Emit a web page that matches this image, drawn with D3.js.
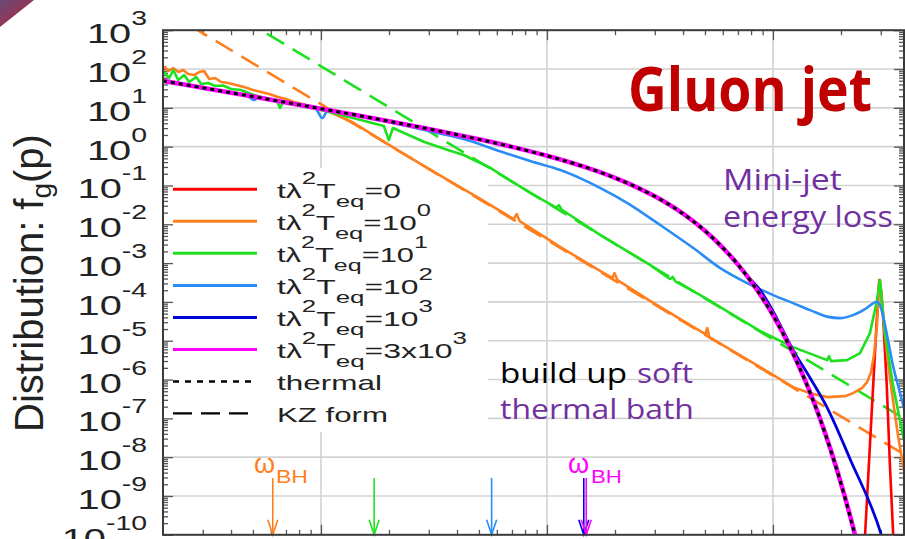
<!DOCTYPE html>
<html>
<head>
<meta charset="utf-8">
<script src="https://cdn.jsdelivr.net/npm/d3@7/dist/d3.min.js"></script>
<style>
  body { margin: 0; background: #fff; }
  svg { display: block; }
  text { font-family: "Liberation Sans", Arial, sans-serif; }
  .note { font-family: "Open Sans", "Noto Sans", sans-serif; }
</style>
</head>
<body>
<svg id="chart" width="905" height="539"></svg>
<script>
// ---------- axes ----------
const xDomain = [0.02, 38];
const yDomain = [1e-10, 1e3];
const yTickExponents = [-10, -9, -8, -7, -6, -5, -4, -3, -2, -1, 0, 1, 2, 3];
const xGridValues = [0.1, 1, 10];

// ---------- series: [p, f_g(p)] ----------
const thermal = [[0.02,49.5],[0.03,32.8],[0.05,19.5],[0.07,13.8],[0.1,9.51],[0.15,6.18],[0.2,4.52],
  [0.3,2.86],[0.5,1.54],[0.7,0.987],[1,0.582],[1.5,0.287],[2,0.157],[2.5,0.0894],[3,0.0524],
  [4,0.0187],[5,0.00678],[6,0.00248],[7,9.13e-4],[8,3.35e-4],[9,1.23e-4],[10,4.54e-5],
  [12,6.14e-6],[14,8.3e-7],[16,1.13e-7],[18,1.52e-8],[20,2.06e-9],[22,2.8e-10],[24,3.8e-11]];

const t3000 = [[0.02,49.5],[0.03,32.8],[0.05,19.5],[0.07,13.8],[0.1,9.51],[0.15,6.18],[0.2,4.52],
  [0.3,2.86],[0.5,1.54],[0.7,0.987],[1,0.582],[1.5,0.287],[2,0.157],[2.5,0.0894],[3,0.0524],
  [4,0.0187],[5,0.00678],[6,0.00248],[7,9.13e-4],[8,3.36e-4],[9,1.24e-4],[10,4.6e-5],
  [12,6.2e-6],[14,8.4e-7],[16,1.15e-7],[18,1.55e-8],[20,2.1e-9],[22,2.9e-10],[24,4e-11]];

const t1000 = [[0.02,49.5],[0.03,32.8],[0.05,19.5],[0.07,13.8],[0.1,9.51],[0.15,6.18],[0.2,4.52],
  [0.3,2.86],[0.5,1.54],[0.7,0.987],[1,0.582],[1.5,0.287],[2,0.157],[2.5,0.0894],[3,0.0524],
  [4,0.0187],[5,0.0069],[6,0.0025],[7,9.4e-4],[8,3.7e-4],[8.78,2.0e-4],[10,5.8e-5],
  [12.28,5.7e-6],[14.6,1.1e-6],[17.3,1.98e-7],[21.93,9e-9],[30.27,9.3e-11],[32,3e-11]];

const t100 = [[0.02025,48.9],[0.03,32.8],[0.04,24.5],[0.047,20.8],[0.0506,15.9],[0.053,18.4],
  [0.07,13.8],[0.0941,10.1],[0.1015,5.46],[0.1074,8.77],[0.13,7.15],[0.184,4.7],[0.307,2.45],
  [0.45,1.45],[0.624,0.748],[0.85,0.42],[1.147,0.249],[1.407,0.152],[1.725,0.0857],[2.27,0.0352],
  [3.176,9.5e-3],[4.442,2.44e-3],[5.846,7.43e-4],[7.386,3.44e-4],[10.02,1.5e-4],[12.28,9.3e-5],
  [14.6,6.15e-5],[17.35,4.18e-5],[19.81,3.82e-5],[22.61,4.57e-5],[25.54,6.52e-5],[27.43,8.77e-5],
  [28.77,1.01e-4],[29.75,8.28e-5],[30.77,4.13e-5],[32.28,1.04e-5],[34.06,2.12e-6],[35.73,7.18e-7],
  [37.97,1.83e-7]];

const t10 = [[0.02025,83.7],[0.02131,58.6],[0.0222,94.2],[0.02335,52.1],[0.02482,70.0],[0.02612,46.2],
  [0.02805,62.2],[0.02951,41.1],[0.03169,43.5],[0.03402,36.5],[0.03691,37.5],[0.04004,30.5],
  [0.04432,28.8],[0.04907,22.7],[0.05433,19.0],[0.06015,15.9],[0.06392,15.0],[0.0659,9.88],
  [0.06794,14.1],[0.07372,12.5],[0.08162,11.1],[0.09033,9.9],[0.1,8.77],[0.1225,6.52],[0.1502,4.85],
  [0.1897,3.40],[0.1997,1.48],[0.208,3.02],[0.285,1.34],[0.3638,0.817],[0.4281,0.608],[0.5633,0.281],
  [0.8464,0.0637],[1.1,0.027],[1.13,0.031],[1.16,0.024],[1.725,5.27e-3],[2.869,8.88e-4],[3.5,3.9e-4],
  [3.6,4.4e-4],[3.7,3.4e-4],[4.77,1.5e-4],[8.779,1.77e-5],[12.28,6.84e-6],[17.35,3.16e-6],
  [17.71,4.01e-6],[18.07,2.98e-6],[21.27,3.16e-6],[24.28,4.79e-6],[26.87,1.57e-5],[28.86,1.11e-4],
  [29.75,3.65e-4],[31.3,1.57e-5],[33.96,7.18e-7],[37.97,2.74e-8]];

const t1 = [[0.02025,119],[0.0211,88.8],[0.0222,106],[0.02335,83.7],[0.02458,94.2],[0.02586,74.3],
  [0.02748,70.0],[0.02891,83.7],[0.03042,88.8],[0.032,55.3],[0.03402,58.6],[0.03617,46.2],
  [0.03884,43.6],[0.04213,38.7],[0.04569,34.4],[0.05006,28.8],[0.05433,25.5],[0.05892,22.7],
  [0.06457,19.0],[0.07005,16.9],[0.07599,14.1],[0.08586,11.8],[0.09699,9.88],[0.1107,7.52],
  [0.1399,4.06],[0.2256,0.726],[0.3287,0.197],[0.5089,0.0447],[0.7119,0.01361],[0.734,0.01832],
  [0.7568,0.01208],[1.148,2.58e-3],[1.725,6.22e-4],[1.949,4.1e-4],[1.989,5.52e-4],[2.051,3.65e-4],
  [2.869,1.05e-4],[4.77,1.77e-5],[5.018,1.48e-5],[5.121,2.11e-5],[5.226,1.24e-5],[8.779,2.09e-6],
  [12.28,6.37e-7],[14.6,4.46e-7],[17.35,3.52e-7],[20.84,3.73e-7],[22.61,4.46e-7],[24.77,6.0e-7],
  [26.07,8.57e-7],[27.15,1.55e-6],[27.99,4.26e-6],[28.86,2.52e-5],[29.45,2.71e-4],[29.75,3.65e-4],
  [30.36,1.11e-4],[31.3,1.39e-5],[32.6,1.75e-6],[33.96,2.94e-7],[35.73,3.69e-8],[37.97,4.62e-9]];

const t0 = [[25.41,5.4e-11],[26.87,2.16e-8],[28.28,5.1e-6],[29.01,7.3e-5],[29.54,3.65e-4],
  [30.06,2.0e-4],[30.77,3.4e-5],[31.85,8.1e-7],[32.95,5.5e-9],[34.06,9.2e-11],[34.3,4.0e-11]];

// Kolmogorov-Zakharov power laws (end points)
const kzOrange = [[0.02025,3.3e3],[37.97,1.19e-8]];
const kzGreen = [[0.02025,3.26e4],[37.97,9.93e-8]];

// Bethe-Heitler frequency markers
const omegaBH = [0.0612, 0.1719, 0.569, 1.455, 1.492];
const omegaTop = 2.9e-9;

// legend
const legendValues = [["0",""],["10","0"],["10","1"],["10","2"],["10","3"],["3x10","3"]];
const legendNames = ["thermal", "KZ form"];

// ---------- drawing ----------
const colors = { red:"#ff0000", orange:"#ff7f1e", green:"#1fe01f", lblue:"#2a8cf5", dblue:"#0000dd", magenta:"#ff00ff" };
const svg = d3.select("#chart");
const M = { left: 163, right: 904, top: 30.2, bottom: 534.8 };
const x = d3.scaleLog().domain(xDomain).range([M.left, M.right]);
const y = d3.scaleLog().domain(yDomain).range([M.bottom, M.top]);

const defs = svg.append("defs");
const grad = defs.append("linearGradient").attr("id","cornerGrad")
  .attr("x1","0").attr("y1","0").attr("x2","1").attr("y2","1");
grad.append("stop").attr("offset","0%").attr("stop-color","#6a4a78");
grad.append("stop").attr("offset","100%").attr("stop-color","#b3243c");
svg.append("path").attr("d","M0,0 L34,0 L0,27 Z").attr("fill","url(#cornerGrad)");

defs.append("clipPath").attr("id","plotClip").append("rect")
  .attr("x",M.left).attr("y",M.top).attr("width",M.right-M.left).attr("height",M.bottom-M.top);

// stretch a text horizontally so that it spans the given width
function fitText(sel, width) {
  const w = sel.node().getComputedTextLength();
  const x0 = +sel.attr("x"), y0 = +sel.attr("y");
  sel.attr("x",0).attr("y",0).attr("transform",`translate(${x0},${y0}) scale(${width / w},1)`);
}

// grid
const gridG = svg.append("g").attr("stroke","#d2d2d2").attr("stroke-width",1.6);
yTickExponents.filter(e => e > -10 && e < 3).forEach(e => {
  gridG.append("line").attr("x1",M.left).attr("x2",M.right).attr("y1",y(10**e)).attr("y2",y(10**e));
});
xGridValues.forEach(v => {
  gridG.append("line").attr("x1",x(v)).attr("x2",x(v)).attr("y1",M.top).attr("y2",M.bottom);
});

// opaque key area
svg.append("rect").attr("x",M.left+1).attr("y",168).attr("width",488-M.left-1).attr("height",264).attr("fill","#fff");

// ticks
const yMajor = yTickExponents.map(e => 10**e);
const yMinor = [];
for (let e = -10; e < 3; e++) for (let k = 2; k <= 9; k++) yMinor.push(k * 10**e);
const xMajor = xGridValues;
const xMinor = [0.03,0.04,0.05,0.06,0.07,0.08,0.09,0.2,0.3,0.4,0.5,0.6,0.7,0.8,0.9,2,3,4,5,6,7,8,9,20,30];

function tickAxis(axis, tr) {
  const g = svg.append("g").attr("transform", tr).call(axis);
  g.select(".domain").remove();
  g.selectAll("text").remove();
  g.selectAll("line").attr("stroke","#555").attr("stroke-width",1.3);
}
tickAxis(d3.axisLeft(y).tickValues(yMajor).tickSize(-10), `translate(${M.left},0)`);
tickAxis(d3.axisLeft(y).tickValues(yMinor).tickSize(-5), `translate(${M.left},0)`);
tickAxis(d3.axisRight(y).tickValues(yMajor).tickSize(-10), `translate(${M.right},0)`);
tickAxis(d3.axisRight(y).tickValues(yMinor).tickSize(-5), `translate(${M.right},0)`);
tickAxis(d3.axisTop(x).tickValues(xMajor).tickSize(-10), `translate(0,${M.top})`);
tickAxis(d3.axisTop(x).tickValues(xMinor).tickSize(-5), `translate(0,${M.top})`);
tickAxis(d3.axisBottom(x).tickValues(xMajor).tickSize(-10), `translate(0,${M.bottom})`);
tickAxis(d3.axisBottom(x).tickValues(xMinor).tickSize(-5), `translate(0,${M.bottom})`);

// y tick labels 10^n
yTickExponents.forEach(e => {
  const g = svg.append("g").attr("transform", `translate(147,${y(10**e)+13}) scale(1.42,1)`);
  const t = g.append("text").attr("text-anchor","end").attr("fill","#222").attr("font-size",28);
  t.append("tspan").text("10");
  t.append("tspan").attr("dy",-18).attr("font-size",20).text(String(e));
});

// y axis title
const yt = svg.append("text").attr("transform","translate(43,283) rotate(-90)")
  .attr("text-anchor","middle").attr("font-size",40).attr("fill","#222");
yt.append("tspan").text("Distribution: f");
yt.append("tspan").attr("font-size",28).attr("dy",8).text("g");
yt.append("tspan").attr("dy",-8).text("(p)");

// curves
const line = d3.line().x(d => x(d[0])).y(d => y(d[1]));
const smooth = d3.line().x(d => x(d[0])).y(d => y(d[1])).curve(d3.curveMonotoneX);
const curves = svg.append("g").attr("clip-path","url(#plotClip)").attr("fill","none")
  .attr("stroke-linejoin","round");
curves.append("path").attr("d", line(kzOrange)).attr("stroke",colors.orange).attr("stroke-width",2.6)
  .attr("stroke-dasharray","20 10");
curves.append("path").attr("d", line(kzGreen)).attr("stroke",colors.green).attr("stroke-width",2.6)
  .attr("stroke-dasharray","20 10");
curves.append("path").attr("d", line(t0)).attr("stroke",colors.red).attr("stroke-width",2.6);
curves.append("path").attr("d", line(t1)).attr("stroke",colors.orange).attr("stroke-width",2.6);
curves.append("path").attr("d", line(t10)).attr("stroke",colors.green).attr("stroke-width",2.6);
curves.append("path").attr("d", smooth(t100)).attr("stroke",colors.lblue).attr("stroke-width",2.6);
curves.append("path").attr("d", smooth(t1000)).attr("stroke",colors.dblue).attr("stroke-width",2.8);
curves.append("path").attr("d", smooth(t3000)).attr("stroke",colors.magenta).attr("stroke-width",4.6);
curves.append("path").attr("d", smooth(thermal)).attr("stroke","#000").attr("stroke-width",3)
  .attr("stroke-dasharray","4 4");

// omega_BH arrows
const arrowColors = [colors.orange, colors.green, colors.lblue, colors.dblue, colors.magenta];
omegaBH.forEach((p, i) => {
  const ax = x(p), y0 = y(omegaTop), y1 = y(yDomain[0]);
  const g = svg.append("g").attr("stroke", arrowColors[i]).attr("stroke-width",1.6).attr("fill","none");
  g.append("line").attr("x1",ax).attr("x2",ax).attr("y1",y0).attr("y2",y1);
  g.append("path").attr("d",`M${ax-5},${y1-15} L${ax},${y1} L${ax+5},${y1-15}`);
});
[[0, colors.orange, 254, 276, 32], [4, colors.magenta, 568, 591, 31]].forEach(([i, c, wx, bx, bw]) => {
  svg.append("text").attr("x", wx).attr("y", 473).attr("fill", c).attr("font-size",27).text("ω");
  const b = svg.append("text").attr("x", bx).attr("y", 483).attr("fill", c).attr("font-size",18.5).text("BH");
  fitText(b, bw);
});

// legend
const legendStyles = [
  {c:colors.red}, {c:colors.orange}, {c:colors.green}, {c:colors.lblue}, {c:colors.dblue}, {c:colors.magenta},
  {c:"#000", dash:"6 6", w:2.4}, {c:"#000", dash:"19 9", w:2.4}
];
const rowY = [189.3, 221.2, 253.3, 285.5, 317.4, 349.4, 381.5, 413.4];
const rowWidth = [124, 154, 151, 156, 156, 190, 105, 111];
legendStyles.forEach((s, i) => {
  svg.append("line").attr("x1",173).attr("x2",257).attr("y1",rowY[i]).attr("y2",rowY[i])
    .attr("stroke",s.c).attr("stroke-width",s.w || 3).attr("stroke-dasharray",s.dash || null);
  const t = svg.append("text").attr("x",277).attr("y",rowY[i]+8.4).attr("font-size",21).attr("fill","#222");
  if (i < 6) {
    const [base, sup] = legendValues[i];
    t.append("tspan").text("tλ");
    t.append("tspan").attr("dy",-14).attr("font-size",17).text("2");
    t.append("tspan").attr("dy",14).text("T");
    t.append("tspan").attr("dy",9).attr("font-size",17).text("eq");
    t.append("tspan").attr("dy",-9).text("=" + base);
    if (sup) t.append("tspan").attr("dy",-14).attr("font-size",17).text(sup);
  } else {
    t.text(legendNames[i - 6]);
  }
  fitText(t, rowWidth[i]);
});

// frame
svg.append("rect").attr("x",M.left).attr("y",M.top).attr("width",M.right-M.left).attr("height",M.bottom-M.top)
  .attr("fill","none").attr("stroke","#3a3a3a").attr("stroke-width",2);

// annotations
const g1 = svg.append("text").attr("class","note").attr("x",628).attr("y",111).attr("font-size",61)
  .attr("font-weight",700).attr("fill","#c00000").text("Gluon jet");
fitText(g1, 244);
const n1 = svg.append("text").attr("class","note").attr("x",723).attr("y",190).attr("font-size",29)
  .attr("fill","#7030a0").text("Mini-jet");
fitText(n1, 119);
const n2 = svg.append("text").attr("class","note").attr("x",723).attr("y",227).attr("font-size",29)
  .attr("fill","#7030a0").text("energy loss");
fitText(n2, 170);
const b1 = svg.append("text").attr("class","note").attr("x",500).attr("y",383).attr("font-size",28)
  .attr("fill","#000").text("build up");
fitText(b1, 127);
const b1s = svg.append("text").attr("class","note").attr("x",637).attr("y",383).attr("font-size",28)
  .attr("fill","#7030a0").text("soft");
fitText(b1s, 56);
const b2 = svg.append("text").attr("class","note").attr("x",500).attr("y",419).attr("font-size",28)
  .attr("fill","#7030a0").text("thermal bath");
fitText(b2, 194);
</script>
</body>
</html>
